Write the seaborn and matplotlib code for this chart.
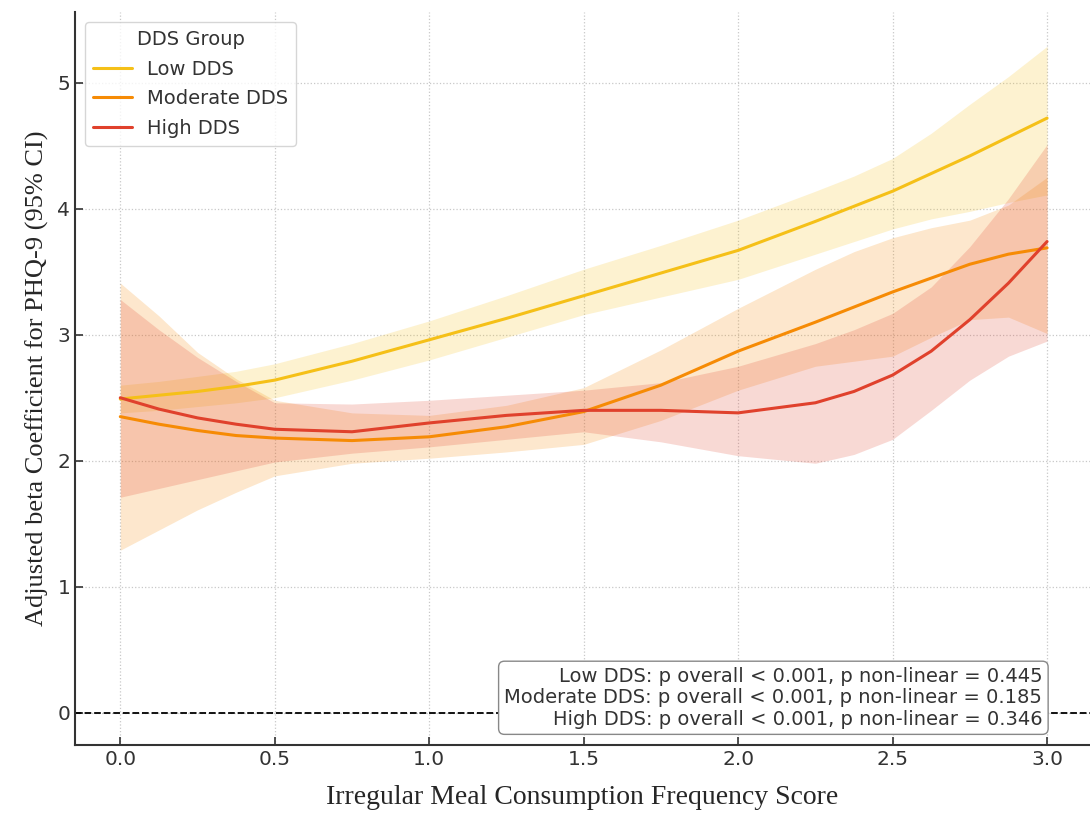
import numpy as np
import pandas as pd
import matplotlib.pyplot as plt
import seaborn as sns

# values
score = [0.0, 0.125, 0.25, 0.375, 0.5, 0.75, 1.0, 1.25, 1.5, 1.75,
         2.0, 2.25, 2.375, 2.5, 2.625, 2.75, 2.875, 3.0]

low_beta = [2.49, 2.52, 2.55, 2.59, 2.64, 2.79, 2.96, 3.13, 3.31, 3.49,
            3.67, 3.90, 4.02, 4.14, 4.28, 4.42, 4.57, 4.72]
low_lo = [2.38, 2.40, 2.43, 2.46, 2.50, 2.64, 2.80, 2.98, 3.16, 3.30,
          3.44, 3.64, 3.74, 3.84, 3.92, 3.98, 4.05, 4.11]
low_hi = [2.60, 2.63, 2.67, 2.71, 2.77, 2.93, 3.11, 3.31, 3.52, 3.71,
          3.91, 4.14, 4.26, 4.40, 4.60, 4.83, 5.05, 5.29]

mod_beta = [2.35, 2.29, 2.24, 2.20, 2.18, 2.16, 2.19, 2.27, 2.39, 2.60,
            2.87, 3.10, 3.22, 3.34, 3.45, 3.56, 3.64, 3.69]
mod_lo = [1.29, 1.45, 1.61, 1.75, 1.88, 1.98, 2.02, 2.07, 2.13, 2.32,
          2.56, 2.75, 2.79, 2.83, 2.98, 3.12, 3.14, 3.01]
mod_hi = [3.41, 3.15, 2.86, 2.65, 2.48, 2.38, 2.36, 2.44, 2.58, 2.88,
          3.21, 3.52, 3.66, 3.77, 3.85, 3.91, 4.03, 4.25]

high_beta = [2.50, 2.41, 2.34, 2.29, 2.25, 2.23, 2.30, 2.36, 2.40, 2.40,
             2.38, 2.46, 2.55, 2.68, 2.87, 3.12, 3.41, 3.74]
high_lo = [1.71, 1.78, 1.85, 1.92, 1.99, 2.06, 2.11, 2.17, 2.23, 2.15,
           2.04, 1.98, 2.05, 2.17, 2.40, 2.64, 2.83, 2.95]
high_hi = [3.28, 3.04, 2.82, 2.63, 2.46, 2.45, 2.48, 2.52, 2.56, 2.62,
           2.75, 2.93, 3.04, 3.17, 3.38, 3.70, 4.08, 4.51]

groups = ["Low DDS", "Moderate DDS", "High DDS"]
colors = {"Low DDS": "#F5C018", "Moderate DDS": "#F68B05", "High DDS": "#E0412C"}

p_text = ("Low DDS: p overall < 0.001, p non-linear = 0.445\n"
          "Moderate DDS: p overall < 0.001, p non-linear = 0.185\n"
          "High DDS: p overall < 0.001, p non-linear = 0.346")

series = {
    "Low DDS": (low_beta, low_lo, low_hi),
    "Moderate DDS": (mod_beta, mod_lo, mod_hi),
    "High DDS": (high_beta, high_lo, high_hi),
}

df = pd.concat([
    pd.DataFrame({"score": score, "beta": vals[0], "lo": vals[1], "hi": vals[2], "group": g})
    for g, vals in series.items()
], ignore_index=True)

sns.set_style("ticks")
plt.rcParams["font.family"] = ["DejaVu Sans"]

fig = plt.figure(figsize=(10.9, 8.21), dpi=100)
ax = fig.add_axes([0.069, 0.093, 0.931, 0.892])

# confidence bands
for g in groups:
    sub = df[df["group"] == g]
    ax.fill_between(sub["score"], sub["lo"], sub["hi"], color=colors[g], alpha=0.2, lw=0)

sns.lineplot(data=df, x="score", y="beta", hue="group", hue_order=groups,
             palette=colors, lw=2.2, ax=ax)

ax.axhline(0, color="black", ls="--", lw=1.3, zorder=1)

ax.set_xlim(-0.146, 3.139)
ax.set_ylim(-0.254, 5.56)
ax.set_xticks([0.0, 0.5, 1.0, 1.5, 2.0, 2.5, 3.0])
ax.set_yticks([0, 1, 2, 3, 4, 5])
ax.grid(True, ls=":", color="#c8c8c8", lw=0.9)
ax.tick_params(direction="in", length=6, width=1.2, labelsize=14.5, colors="#333333")
sns.despine(ax=ax)
for s in ["left", "bottom"]:
    ax.spines[s].set_color("#333333")
    ax.spines[s].set_linewidth(1.5)

serif = ["Liberation Serif", "DejaVu Serif"]
ax.set_xlabel("Irregular Meal Consumption Frequency Score", family=serif, fontsize=20, labelpad=12)
ax.set_ylabel("Adjusted beta Coefficient for PHQ-9 (95% CI)", family=serif, fontsize=19, labelpad=6)

leg = ax.legend(title="DDS Group", loc="upper left", fontsize=14, title_fontsize=14,
                handlelength=2.0, labelspacing=0.55, frameon=True, fancybox=True)
leg.get_frame().set_edgecolor("#cccccc")
for t in leg.get_texts():
    t.set_color("#333333")
leg.get_title().set_color("#333333")

ax.text(0.953, 0.022, p_text, transform=ax.transAxes, ha="right", va="bottom",
        multialignment="right", fontsize=14, color="#333333", linespacing=1.15,
        bbox=dict(boxstyle="round,pad=0.3", fc="white", ec="#888888", lw=1.0))

fig.savefig("out.png", dpi=100)
